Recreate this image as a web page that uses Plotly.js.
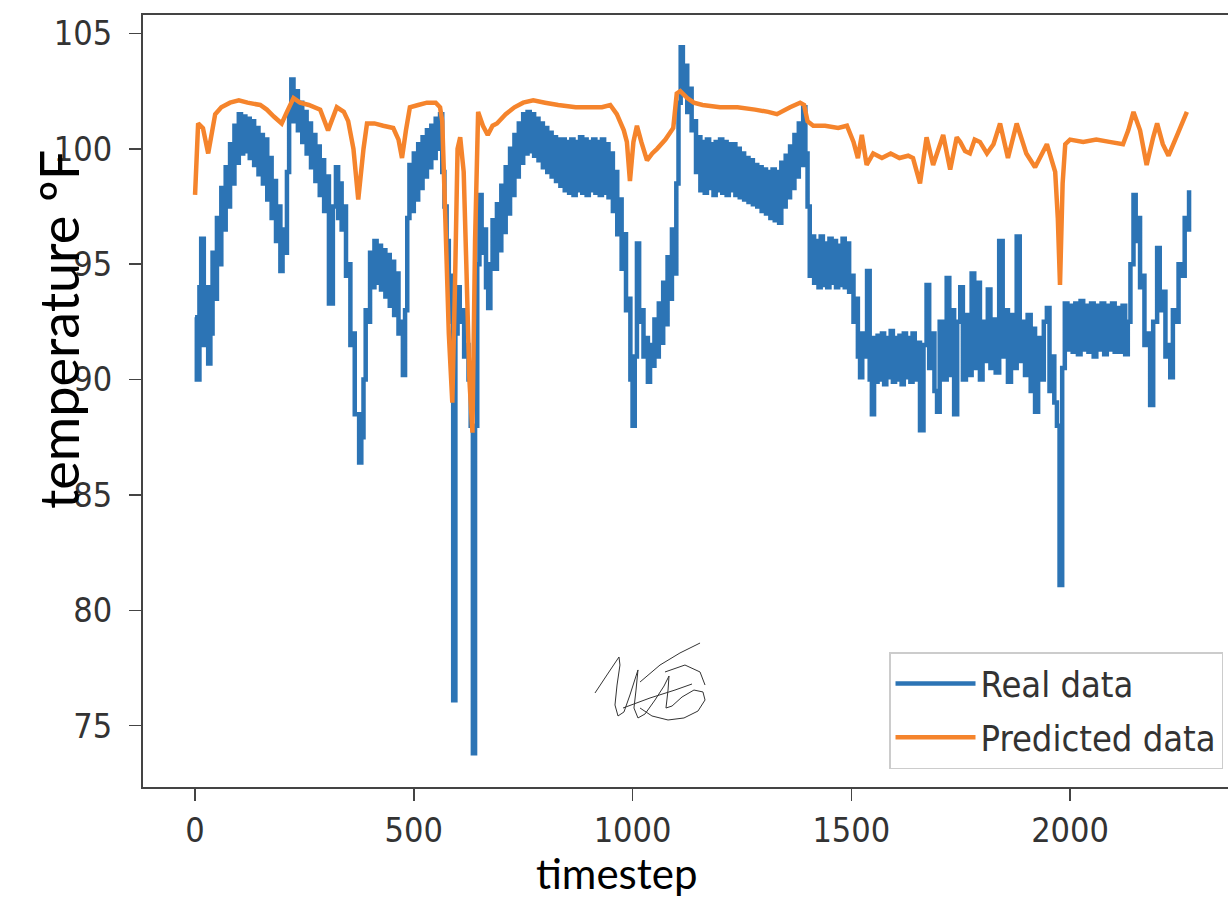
<!DOCTYPE html>
<html><head><meta charset="utf-8">
<script src="https://cdn.plot.ly/plotly-3.0.1.min.js"></script>
<style>html,body{margin:0;padding:0;background:#fff;} #chart{width:1228px;height:899px;}</style>
</head><body><div id="chart"></div>
<script>
// ---- data ----
const seriesNames = ['Real data', 'Predicted data'];
const xTitle = 'timestep';
const yTitle = 'temperature ºF';
const xTicks = [0, 500, 1000, 1500, 2000];
const yTicks = [75, 80, 85, 90, 95, 100, 105];

const realX = [0,4,10,14,20,25,30,35,40,45,50,55,60,65,70,75,80,85,90,95,
100,105,110,115,120,125,130,135,140,145,150,155,160,165,170,175,180,185,190,195,
200,205,210,215,220,225,230,235,240,245,250,255,260,265,270,275,280,285,290,295,
300,306,315,322,327,330,335,340,345,350,355,360,365,370,375,380,385,390,395,
400,405,410,415,420,425,430,435,440,445,450,455,460,465,470,475,480,485,490,495,
500,505,510,515,520,525,530,535,540,545,550,555,560,565,570,575,580,585,590,595,
600,605,610,615,620,625,630,635,640,645,650,655,660,665,670,675,680,685,690,695,
700,705,710,715,720,725,730,735,740,745,750,755,760,765,770,775,780,785,790,795,
800,805,810,815,820,825,830,835,840,845,850,855,860,865,870,875,880,885,890,895,
900,905,910,915,920,925,930,935,940,945,950,955,960,965,970,975,980,985,990,995,
1000,1005,1010,1015,1020,1025,1030,1035,1040,1045,1050,1055,1060,1065,1070,1075,1080,1085,1090,1095,
1100,1105,1110,1115,1120,1125,1130,1135,1140,1145,1150,1155,1160,1165,1170,1175,1180,1185,1190,1195,
1200,1205,1210,1215,1220,1225,1230,1235,1240,1245,1250,1255,1260,1265,1270,1275,1280,1285,1290,1295,
1300,1305,1310,1315,1320,1325,1330,1335,1340,1345,1350,1355,1360,1365,1370,1375,1380,1385,1390,1395,
1400,1405,1410,1415,1420,1425,1430,1435,1440,1445,1450,1455,1460,1465,1470,1475,1480,1485,1490,1495,
1500,1505,1510,1515,1520,1525,1530,1536,1542,1547,1552,1555,1560,1565,1570,1575,1580,1585,1590,1595,
1600,1605,1610,1615,1620,1625,1630,1635,1640,1645,1650,1657,1665,1672,1678,1684,1690,1696,
1702,1710,1718,1724,1730,1735,1742,1749,1755,1762,1768,1775,1781,1787,1794,
1800,1806,1812,1818,1824,1830,1838,1846,1852,1858,1865,1871,1878,1885,1891,1897,
1903,1910,1915,1920,1927,1933,1940,1947,1953,1958,1964,1970,1976,1982,1988,1994,
2000,2006,2012,2018,2024,2030,2036,2042,2048,2054,2060,2066,2072,2078,2084,2090,2096,
2102,2108,2114,2120,2126,2132,2138,2145,2150,2155,2160,2165,2170,2176,2183,2190,2199,
2205,2212,2218,2224,2229,2235,2242,2248,2255,2262,2268,2272];

const realY = [92.7,90.0,94.0,96.1,91.5,94.0,90.7,92.0,95.5,93.5,97.0,95.0,98.3,96.5,99.2,97.5,100.2,98.5,101.0,99.4,
101.5,99.8,101.4,99.9,101.3,99.6,101.2,99.3,100.9,98.9,100.6,98.5,100.4,97.8,99.6,97.0,98.6,96.0,97.5,94.7,
96.5,95.5,99.0,101.5,103.0,101.2,102.5,100.8,102.0,100.3,101.6,99.8,101.1,99.2,100.6,98.6,100.1,98.0,99.5,97.3,
98.8,93.3,97.5,99.2,97.0,98.5,96.5,97.5,94.5,95.0,91.5,92.0,88.5,88.5,86.4,87.5,90.0,93.0,92.5,
95.5,94.0,96.0,94.2,95.8,93.9,95.6,93.6,95.4,93.2,95.1,92.8,94.6,92.0,92.5,90.2,93.0,97.0,99.3,97.3,
99.8,97.8,100.2,98.3,100.5,98.8,100.8,99.2,101.0,99.6,101.3,100.0,101.5,99.0,97.5,96.0,94.5,92.5,76.1,92.0,
94.0,92.5,93.0,91.0,91.5,90.0,88.0,73.8,88.0,95.0,98.0,95.5,96.5,94.0,93.1,95.0,96.9,94.8,97.6,95.6,
98.4,96.4,99.2,97.2,100.0,98.0,100.6,98.8,101.1,99.4,101.5,99.8,101.6,99.9,101.5,99.7,101.3,99.5,101.1,99.2,
100.9,99.0,100.7,98.8,100.5,98.6,100.4,98.4,100.4,98.2,100.3,98.1,100.4,98.0,100.3,98.2,100.5,98.1,100.4,98.0,
100.3,98.2,100.4,98.1,100.3,98.0,100.4,98.1,100.2,97.9,99.8,97.3,99.0,96.3,97.8,94.8,96.3,93.0,93.5,90.0,
88.0,91.0,95.9,92.5,93.0,91.0,91.8,89.9,91.5,90.6,92.6,91.0,93.3,91.6,94.2,92.4,95.3,93.5,96.5,94.6,
98.5,102.0,104.4,102.5,103.6,101.6,102.6,100.8,101.2,99.0,100.5,98.2,100.3,98.1,100.4,98.3,100.2,98.0,100.3,98.2,
100.4,98.1,100.3,98.0,100.2,98.2,100.2,98.0,100.0,97.9,99.8,97.8,99.6,97.7,99.5,97.6,99.3,97.5,99.2,97.3,
99.1,97.2,99.0,97.0,99.1,96.9,99.0,96.8,99.4,97.5,99.7,97.9,100.1,98.3,100.6,98.8,101.1,99.3,101.8,99.8,
97.5,94.5,96.2,94.2,96.0,94.0,96.2,94.1,95.9,94.0,96.1,94.2,96.0,94.0,95.8,94.1,96.1,94.0,95.9,93.8,
94.5,92.5,93.5,91.0,90.1,92.0,91.0,94.7,90.0,88.5,91.8,89.9,91.9,90.0,92.0,89.8,91.8,90.1,92.1,89.9,
91.8,90.0,91.9,89.8,92.0,90.1,91.8,89.9,92.0,90.0,91.6,87.8,91.5,94.1,90.5,92.0,89.5,88.6,
92.5,90.0,94.4,90.2,93.0,88.5,92.5,94.0,90.0,92.8,90.2,94.6,90.5,94.2,90.0,
92.5,90.8,93.9,90.5,92.6,90.3,96.0,91.0,93.0,89.9,92.8,90.5,96.2,90.8,92.5,90.2,
92.8,89.5,92.2,88.6,91.8,90.0,92.5,93.1,89.5,91.0,89.0,88.0,81.1,90.5,93.3,91.3,
93.2,91.2,93.3,91.1,93.4,91.3,93.2,91.2,93.3,91.0,93.2,91.3,93.3,91.1,93.2,91.3,93.3,
91.2,93.1,91.2,93.2,91.1,92.5,95.0,98.0,96.0,97.0,94.0,94.5,91.5,92.0,88.9,92.5,95.7,
93.0,93.8,91.0,91.5,90.1,93.0,92.5,95.0,94.5,97.0,96.5,98.2];

const predX = [0,7,18,30,46,60,80,100,120,149,164,180,198,210,225,240,260,286,304,324,
340,350,362,373,385,393,410,430,453,465,473,482,491,510,530,550,560,565,572,580,
588,594,600,606,614,620,627,634,640,647,658,669,680,690,710,730,750,773,800,830,
870,900,930,949,964,980,987,994,1002,1010,1020,1033,1045,1056,1075,1093,1101,1109,1125,1140,
1160,1200,1240,1280,1310,1330,1360,1383,1392,1400,1413,1440,1470,1490,1505,1515,1524,1535,1550,1570,
1590,1610,1630,1641,1657,1672,1687,1710,1726,1741,1749,1760,1771,1782,1794,1810,1825,1840,1858,1878,
1900,1920,1947,1966,1972,1977,1983,1989,2000,2030,2060,2090,2121,2133,2145,2160,2175,2190,2199,2212,
2225,2245,2267];

const predY = [98.0,101.1,100.9,99.8,101.5,101.8,102.0,102.1,102.0,101.9,101.7,101.4,101.1,101.6,102.2,102.0,101.9,101.7,100.8,101.8,
101.6,101.2,100.0,97.8,100.0,101.1,101.1,101.0,100.9,100.4,99.6,100.8,101.8,101.9,102.0,102.0,101.8,101.2,97.0,92.0,
89.0,94.0,100.0,100.5,99.0,95.0,90.0,87.7,96.0,101.6,101.0,100.6,101.0,101.1,101.5,101.8,102.0,102.1,102.0,101.9,
101.8,101.8,101.8,101.9,101.5,100.8,100.3,98.6,100.3,101.0,100.3,99.5,99.8,100.0,100.4,100.9,102.4,102.5,102.2,102.0,
101.9,101.8,101.8,101.7,101.6,101.5,101.8,102.0,101.9,101.2,101.0,101.0,100.9,101.0,100.3,99.6,100.6,99.3,99.8,99.6,
99.8,99.6,99.7,99.6,98.5,100.5,99.3,100.6,99.1,100.5,100.3,99.9,99.8,100.4,100.3,99.8,100.2,101.1,99.6,101.1,
99.8,99.2,100.2,99.0,97.0,94.1,98.5,100.2,100.4,100.3,100.4,100.3,100.2,100.8,101.6,100.8,99.3,100.5,101.1,100.2,
99.7,100.6,101.6];

// ---- signature scribble (decoration, pixel outline) ----
const sigStrokes = [
  [[595,693],[607,675],[619,657],[620,665],[617,685],[615,705],[618,716],[624,712],[630,695],[636,676],[638,670],[636,690],[634,708],[638,718],[645,714],[655,700],[664,686],[669,676],[668,690],[666,708],[672,706],[682,697],[694,690],[703,692],[705,700],[698,711],[684,718],[668,720],[652,716],[640,708]],
  [[623,708],[650,698],[675,690],[692,684]],
  [[640,682],[660,665],[680,653],[700,643]],
  [[665,672],[685,665],[700,672],[705,685]]
];

const W = 1228, H = 899;
const M = {l: 143, r: 0, t: 15, b: 112};
const pw = W - M.l - M.r, ph = H - M.t - M.b;
function px2paper(p) { return [((p[0] - M.l) / pw).toFixed(4), ((H - M.b - p[1]) / ph).toFixed(4)]; }
const sigShapes = sigStrokes.map(s => ({
  type: 'path', xref: 'paper', yref: 'paper', layer: 'above',
  path: s.map((p, i) => (i ? 'L' : 'M') + px2paper(p).join(',')).join(' '),
  line: {color: '#333', width: 1}
}));

const tickFont = {family: 'DejaVu Sans Condensed, DejaVu Sans, sans-serif', size: 34, color: '#333'};
const axisCommon = {
  showgrid: false, zeroline: false, showline: true, linecolor: '#444', linewidth: 2,
  ticks: 'outside', ticklen: 12, tickwidth: 1.5, tickcolor: '#444', tickfont: tickFont
};

const data = [
  {x: realX, y: realY, type: 'scatter', mode: 'lines', name: seriesNames[0], legendgroup: 'a',
   line: {color: '#2c74b5', width: 4.5, shape: 'hv', simplify: false}},
  {x: predX, y: predY, type: 'scatter', mode: 'lines', name: seriesNames[1], legendgroup: 'b',
   line: {color: '#f5842c', width: 4.5, simplify: false}}
];

const layout = {
  width: W, height: H, margin: M,
  paper_bgcolor: '#fff', plot_bgcolor: '#fff',
  xaxis: Object.assign({}, axisCommon, {range: [-119, 2361], tickvals: xTicks, mirror: true, ticklabelstandoff: 0}),
  yaxis: Object.assign({}, axisCommon, {range: [72.34, 105.8], tickvals: yTicks, mirror: false, ticklabelstandoff: 10}),
  showlegend: true,
  legend: {x: 0.9954, y: 0.0233, xanchor: 'right', yanchor: 'bottom',
    bgcolor: 'rgba(255,255,255,0.85)', bordercolor: '#cccccc', borderwidth: 1.5,
    font: {family: 'DejaVu Sans Condensed, DejaVu Sans, sans-serif', size: 36, color: '#333'},
    itemwidth: 80, tracegroupgap: 4},
  annotations: [
    {text: yTitle, xref: 'paper', yref: 'paper', x: (58 - M.l) / pw, y: (H - M.b - 330) / ph,
     showarrow: false, textangle: -90, xanchor: 'center', yanchor: 'middle',
     font: {family: 'Lato, sans-serif', size: 54, color: '#000'}},
    {text: xTitle, xref: 'paper', yref: 'paper', x: (616 - M.l) / pw, y: (H - M.b - 873) / ph,
     showarrow: false, xanchor: 'center', yanchor: 'middle',
     font: {family: 'Lato, sans-serif', size: 42, color: '#000'}}
  ],
  shapes: sigShapes
};

Plotly.newPlot('chart', data, layout, {displayModeBar: false, staticPlot: true});
</script></body></html>
